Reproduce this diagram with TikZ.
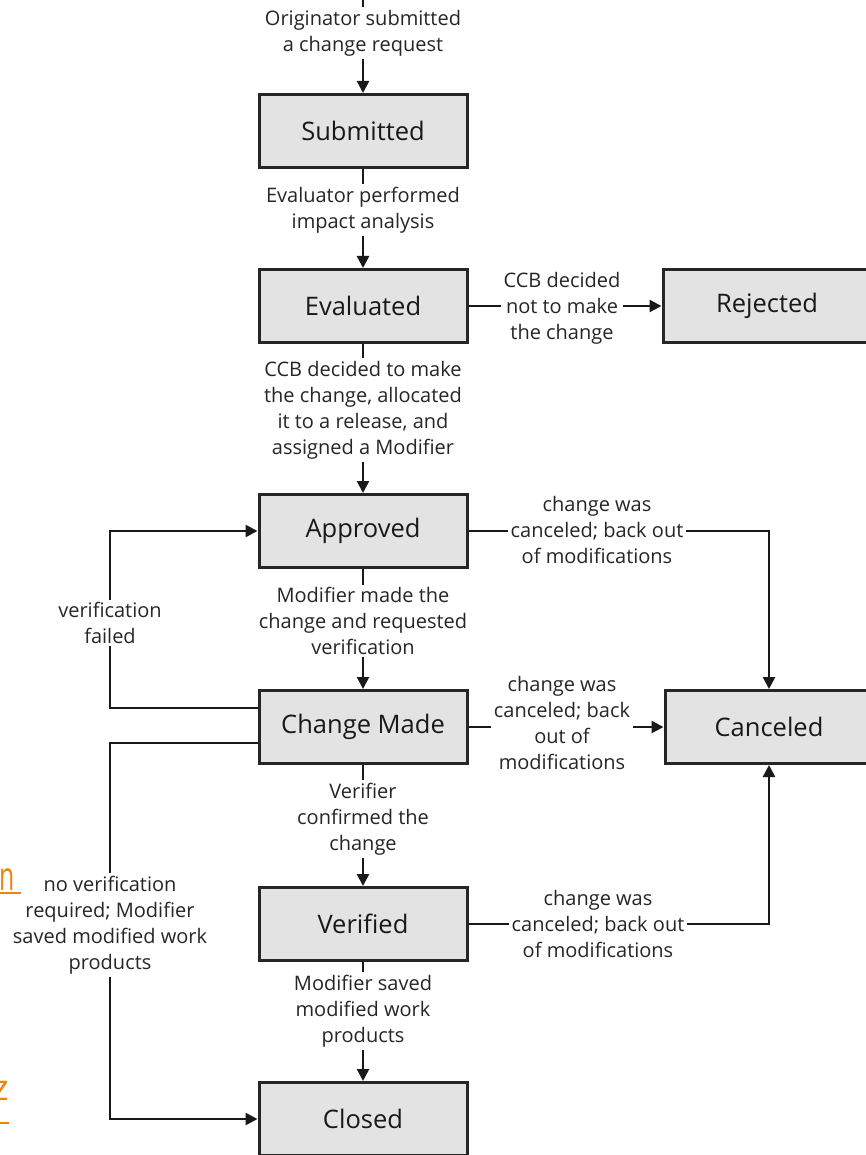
\documentclass[tikz,border=0pt]{standalone}
\usepackage{fontspec}
\setmainfont{Open Sans}
\usetikzlibrary{arrows.meta}
\definecolor{linkorange}{HTML}{E8870E}
\begin{document}
\begin{tikzpicture}[x=1pt,y=-1pt,
  state/.style={draw=black!85, line width=3pt, fill=black!11,
    minimum width=208pt, minimum height=73pt, inner sep=0pt,
    font=\fontsize{25.5}{30}\selectfont, text=black!90},
  elabel/.style={font=\fontsize{20}{26}\selectfont, align=center,
    text=black!85, inner sep=2.5pt},
  conn/.style={line width=2.5pt, draw=black!90},
  arr/.style={conn, -{Triangle[length=12pt,width=12pt]}},
  link/.style={text=linkorange, inner sep=0pt},
  linkline/.style={draw=linkorange, line width=2pt},
]
\useasboundingbox[fill=white] (0,0) rectangle (865,1155);

% states
\node[state] (sub) at (363,131)  {Submitted};
\node[state] (eva) at (363,306)  {Evaluated};
\node[state] (rej) at (767,306)  {Rejected};
\node[state] (app) at (363,531)  {Approved};
\node[state] (cm)  at (363,727)  {Change Made};
\node[state] (can) at (769,727)  {Canceled};
\node[state] (ver) at (363,924)  {Verified};
\node[state] (clo) at (363,1119) {Closed};

% transition labels
\node[elabel] (l0) at (363,33)   {Originator submitted\\a change request};
\node[elabel] (l1) at (363,210)  {Evaluator performed\\impact analysis};
\node[elabel] (l2) at (363,410)  {CCB decided to make\\the change, allocated\\it to a release, and\\assigned a Modifier};
\node[elabel] (l3) at (363,621)  {Modifier made the\\change and requested\\verification};
\node[elabel] (l4) at (363,819)  {Verifier\\confirmed the\\change};
\node[elabel] (l5) at (363,1011) {Modifier saved\\modified work\\products};
\node[elabel] (lrej) at (562,308) {CCB decided\\not to make\\the change};
\node[elabel] (lc1) at (597,530) {change was\\canceled; back out\\of modifications};
\node[elabel] (lc2) at (562,723) {change was\\canceled; back\\out of\\modifications};
\node[elabel] (lc3) at (598,924) {change was\\canceled; back out\\of modifications};
\node[elabel] (lvf) at (110,623) {verification\\failed};
\node[elabel] (lnv) at (110,925) {no verification\\required; Modifier\\saved modified work\\products};

% main line of transitions
\coordinate (start) at (363,0);
\draw[conn] (start) -- (l0.north);
\draw[arr]  (l0.south) -- (sub.north);
\draw[conn] (sub.south) -- (l1.north);
\draw[arr]  (l1.south) -- (eva.north);
\draw[conn] (eva.south) -- (l2.north);
\draw[arr]  (l2.south) -- (app.north);
\draw[conn] (app.south) -- (l3.north);
\draw[arr]  (l3.south) -- (cm.north);
\draw[conn] (cm.south) -- (l4.north);
\draw[arr]  (l4.south) -- (ver.north);
\draw[conn] (ver.south) -- (l5.north);
\draw[arr]  (l5.south) -- (clo.north);

% rejection and cancellation
\draw[conn] (eva.east) -- (lrej.west |- eva.east);
\draw[arr]  (lrej.east |- eva.east) -- (rej.west);
\draw[conn] (app.east) -- (lc1.west |- app.east);
\draw[arr]  (lc1.east |- app.east) -| (can.north);
\draw[conn] (cm.east) -- (lc2.west |- cm.east);
\draw[arr]  (lc2.east |- cm.east) -- (can.west);
\draw[conn] (ver.east) -- (lc3.west |- ver.east);
\draw[arr]  (lc3.east |- ver.east) -| (can.south);

% loops on the left
\draw[conn] ([yshift=19pt]cm.west) -| (lvf.south);
\draw[arr]  (lvf.north) |- (app.west);
\draw[conn] ([yshift=-16pt]cm.west) -| (lnv.north);
\draw[arr]  (lnv.south) |- (clo.west);

% link fragments at the left edge
\node[link, anchor=base west, font=\fontsize{40}{40}\selectfont] (lk1) at (-1,890) {\scalebox{0.62}[1]{n}};
\draw[linkline] (0,893) -- (21,893);
\node[link, anchor=base east, font=\fontsize{36}{36}\selectfont] (lk2) at (9,1100) {z};
\draw[linkline] (0,1123) -- (9,1123);
\end{tikzpicture}
\end{document}
